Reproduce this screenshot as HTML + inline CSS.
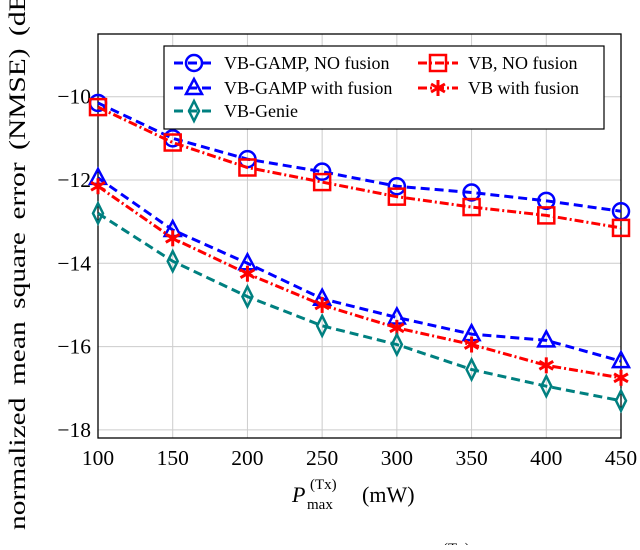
<!DOCTYPE html>
<html><head><meta charset="utf-8"><style>
body{margin:0;background:#fff;}
svg text{font-family:"Liberation Serif",serif;fill:#000;}
</style></head><body>
<svg width="640" height="545" viewBox="0 0 640 545">
<g id="grid"></g>
<g id="axes"></g>
<g id="series"></g>
<g id="legend"></g>
<text x="25" y="530" font-size="23" text-anchor="start" textLength="548" lengthAdjust="spacingAndGlyphs" word-spacing="4" transform="rotate(-90 25 530)">normalized mean square error (NMSE) (dB)</text>
<text x="292" y="502" font-size="22" font-style="italic">P</text>
<text x="307" y="509" font-size="15">max</text>
<text x="310" y="489" font-size="15">(Tx)</text>
<text x="362" y="502" font-size="22">(mW)</text>
<text x="443" y="553" font-size="15">(Tx)</text>
</svg>
<script>
const xVals=[100,150,200,250,300,350,400,450];
const gampNo=[-10.15,-11.0,-11.5,-11.8,-12.15,-12.3,-12.5,-12.75];
const vbNo=[-10.25,-11.1,-11.7,-12.05,-12.4,-12.65,-12.85,-13.15];
const gampFus=[-11.95,-13.2,-14.0,-14.85,-15.3,-15.7,-15.85,-16.35];
const vbFus=[-12.15,-13.4,-14.25,-15.0,-15.55,-15.95,-16.45,-16.75];
const genie=[-12.8,-13.95,-14.8,-15.5,-15.95,-16.55,-16.95,-17.3];
const yTicks=[-10,-12,-14,-16,-18];
const yTickLabels=["−10","−12","−14","−16","−18"];
const NS="http://www.w3.org/2000/svg";
const L=98,R=621,T=34,B=438;
const X=v=>L+(v-100)/350*(R-L);
const Y=v=>96.7+(-10-v)/2*83.3;
function mk(tag,attrs,parent){const e=document.createElementNS(NS,tag);for(const k in attrs)e.setAttribute(k,attrs[k]);parent.appendChild(e);return e;}
const grid=document.getElementById('grid'),axes=document.getElementById('axes'),ser=document.getElementById('series'),leg=document.getElementById('legend');
xVals.forEach(v=>{const l=mk('line',{x1:X(v),x2:X(v),y1:T,y2:B,stroke:'#ccc','stroke-width':1},grid);


const t=mk('text',{x:X(v),y:465,'font-size':21.5,'text-anchor':'middle'},axes);t.textContent=v;

});
yTicks.forEach((v,i)=>{const l=mk('line',{x1:L,x2:R,y1:Y(v),y2:Y(v),stroke:'#ccc','stroke-width':1},grid);


const t=mk('text',{x:91,y:Y(v)+7,'font-size':21.5,'text-anchor':'end'},axes);t.textContent=yTickLabels[i];

});
const fr=mk('rect',{x:L,y:T,width:R-L,height:B-T,fill:'none',stroke:'#000','stroke-width':1.3},axes);


function marker(type,x,y,col,g){
 const s={fill:'none',stroke:col,'stroke-width':2.5};
 if(type==='circle')mk('circle',Object.assign({cx:x,cy:y,r:8},s),g);
 if(type==='square')mk('rect',Object.assign({x:x-8,y:y-8,width:16,height:16},s),g);
 if(type==='tri')mk('polygon',Object.assign({points:`${x},${y-9} ${x-8},${y+6} ${x+8},${y+6}`},s),g);
 if(type==='diamond')mk('polygon',Object.assign({points:`${x},${y-10} ${x-5},${y} ${x},${y+10} ${x+5},${y}`},s),g);
 if(type==='star'){for(let a=0;a<3;a++){const an=Math.PI/2+a*Math.PI/3,dx=8*Math.cos(an),dy=8*Math.sin(an);mk('line',{x1:x-dx,y1:y-dy,x2:x+dx,y2:y+dy,stroke:col,'stroke-width':3},g);}}
}
const series=[
 {name:'VB-GAMP, NO fusion',d:gampNo,col:'#0000ff',m:'circle',dash:'9,5',key:'gamp-no-fusion'},
 {name:'VB, NO fusion',d:vbNo,col:'#ff0000',m:'square',dash:'9,3,2,3',key:'vb-no-fusion'},
 {name:'VB-GAMP with fusion',d:gampFus,col:'#0000ff',m:'tri',dash:'9,5',key:'gamp-with-fusion'},
 {name:'VB with fusion',d:vbFus,col:'#ff0000',m:'star',dash:'9,3,2,3',key:'vb-with-fusion'},
 {name:'VB-Genie',d:genie,col:'#008080',m:'diamond',dash:'9,5',key:'vb-genie'}];
series.forEach(s=>{const g=mk('g',{},ser);
 
 
 mk('polyline',{points:s.d.map((v,i)=>X(xVals[i])+','+Y(v)).join(' '),fill:'none',stroke:s.col,'stroke-width':3,'stroke-dasharray':s.dash},g);
 s.d.forEach((v,i)=>marker(s.m,X(xVals[i]),Y(v),s.col,g));});
const lb=mk('rect',{x:164,y:46,width:440,height:83,fill:'#fff',stroke:'#000','stroke-width':1.2},leg);


const pos=[[174,63],[418,63],[174,88],[418,88],[174,111]];
series.forEach((s,i)=>{const [x,y]=pos[i];const g=mk('g',{},leg);
 
 
 mk('line',{x1:x,x2:x+40,y1:y,y2:y,stroke:s.col,'stroke-width':3,'stroke-dasharray':s.dash},g);
 marker(s.m,x+20,y,s.col,g);
 const t=mk('text',{x:x+50,y:y+6,'font-size':18},g);t.textContent=s.name;});
</script>
</body></html>
